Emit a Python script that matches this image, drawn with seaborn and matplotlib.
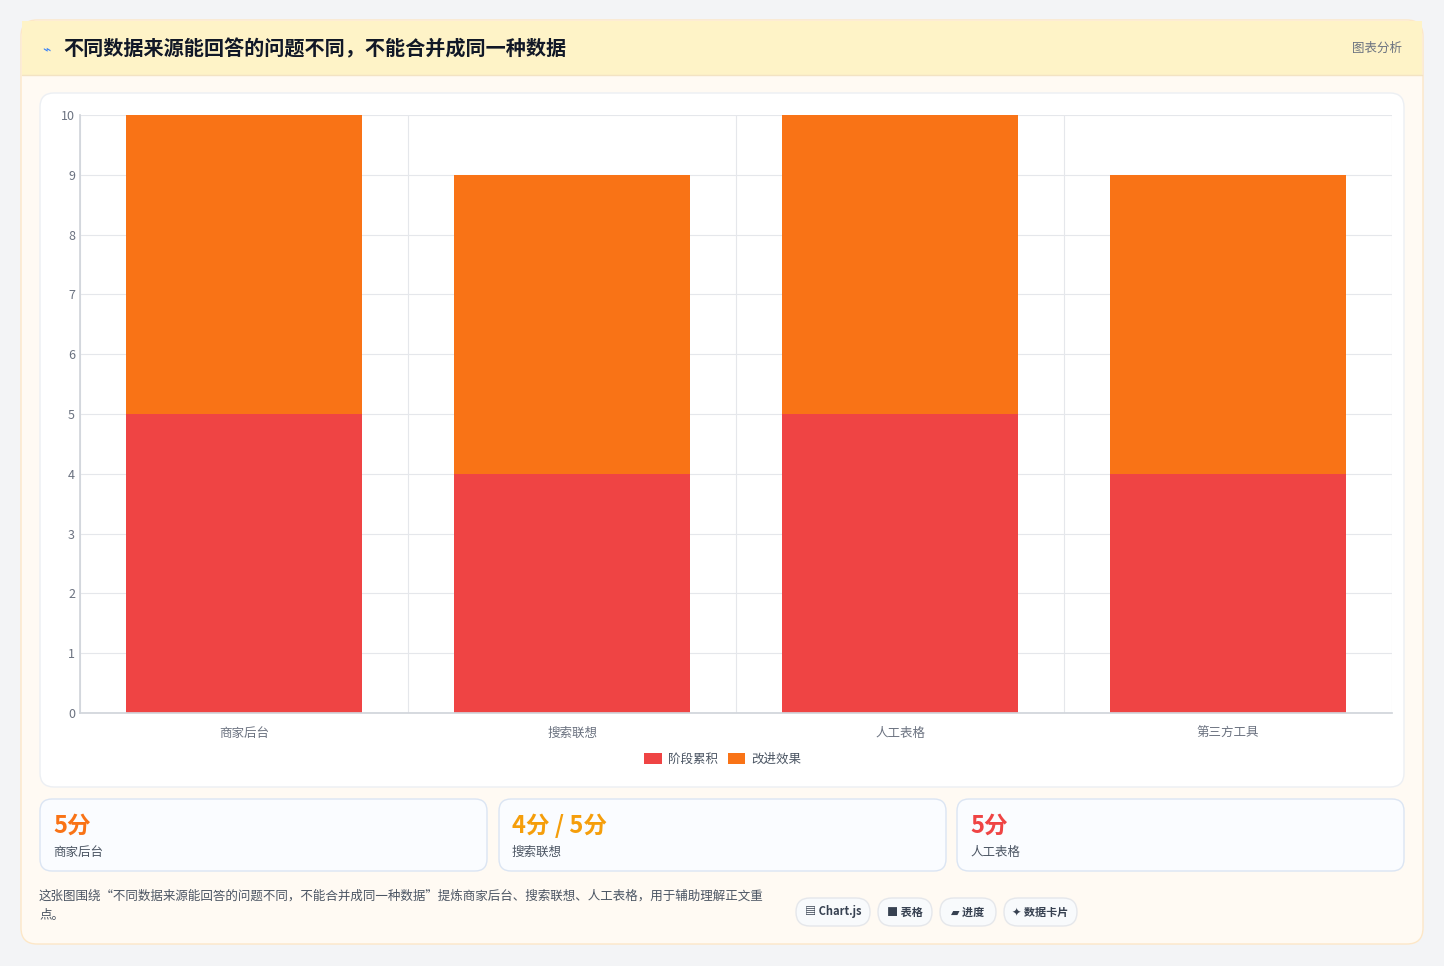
import matplotlib
matplotlib.use("Agg")
import matplotlib.pyplot as plt
import seaborn as sns
import pandas as pd
from matplotlib.patches import FancyBboxPatch, Rectangle

categories = ["商家后台", "搜索联想", "人工表格", "第三方工具"]
stage_values = [5, 4, 5, 4]
improve_values = [5, 5, 5, 5]
series_names = ["阶段累积", "改进效果"]
yticks = list(range(0, 11))
card_values = ["5分", "4分 / 5分", "5分"]
card_labels = ["商家后台", "搜索联想", "人工表格"]
card_colors = ["#f97316", "#f59e0b", "#ef4444"]
tags = ["▤ Chart.js", "■ 表格", "▰ 进度", "✦ 数据卡片"]
title = "不同数据来源能回答的问题不同，不能合并成同一种数据"
desc1 = "这张图围绕“不同数据来源能回答的问题不同，不能合并成同一种数据”提炼商家后台、搜索联想、人工表格，用于辅助理解正文重"
desc2 = "点。"

sns.set_theme(style="whitegrid")
plt.rcParams['font.family'] = ['Noto Sans CJK SC', 'DejaVu Sans']

W, H = 1444, 966
fig = plt.figure(figsize=(W/100, H/100), dpi=100)
fig.patch.set_facecolor("#f3f4f6")

def box(x, y, w, h, fc, ec, r=12, lw=1, z=0):
    p = FancyBboxPatch((x/W, 1-(y+h)/H), w/W, h/H,
                       boxstyle=f"round,pad=0,rounding_size={r/W}",
                       transform=fig.transFigure, fc=fc, ec=ec, lw=lw, zorder=z,
                       mutation_aspect=W/H)
    fig.patches.append(p)

box(21, 20, 1402, 924, "#fffaf3", "#fde7c7", r=16)
fig.patches.append(Rectangle((22/W, 1-75/H), 1400/W, 54/H, transform=fig.transFigure,
                             fc="#fef3c7", ec="none", zorder=0.5))
fig.lines.append(plt.Line2D([22/W, 1422/W], [1-75/H]*2, transform=fig.transFigure, color="#f3e3c3", lw=1))
fig.text(42/W, 1-49/H, "⌁", color="#3b82f6", fontsize=10, va="center")
fig.text(63/W, 1-49/H, title, fontsize=14.5, fontweight="bold", color="#111827", va="center")
fig.text(1402/W, 1-48/H, "图表分析", fontsize=9, color="#6b7280", va="center", ha="right")

box(40, 93, 1364, 694, "white", "#eceff3", r=14, z=1)

ax = fig.add_axes([80/W, 1-713/H, (1392-80)/W, (713-115)/H], zorder=2)
ax.set_facecolor("white")
df = pd.DataFrame({"cat": categories, "s": stage_values, "i": improve_values})
sns.barplot(data=df, x="cat", y="s", color="#ef4444", width=0.72, ax=ax, saturation=1,
            label=series_names[0], linewidth=0)
sns.barplot(data=df, x="cat", y="i", bottom=df["s"], color="#f97316", width=0.72, ax=ax,
            saturation=1, label=series_names[1], linewidth=0)
ax.set_ylim(0, 10)
ax.set_xlim(-0.5, 3.5)
ax.set_yticks(yticks)
ax.set_xlabel(""); ax.set_ylabel("")
ax.tick_params(axis="both", labelsize=9, colors="#6b7280", length=0)
ax.tick_params(axis="x", pad=10)
ax.set_xticks([-0.5, 0.5, 1.5, 2.5, 3.5], minor=True)
ax.grid(False)
ax.grid(True, which="minor", axis="x", color="#e5e7eb", lw=0.8)
ax.grid(True, which="major", axis="y", color="#e5e7eb", lw=0.8)
for s in ["top", "right"]:
    ax.spines[s].set_visible(False)
ax.spines["left"].set_color("#d1d5db"); ax.spines["bottom"].set_color("#d1d5db")
leg = ax.legend(loc="upper center", bbox_to_anchor=(0.49, -0.048), ncol=2, frameon=False,
                fontsize=9, handlelength=1.4, handleheight=0.9, columnspacing=0.8, handletextpad=0.5)
for t in leg.get_texts():
    t.set_color("#4b5563")

cx = [40, 499, 957]
for x, v, l, c in zip(cx, card_values, card_labels, card_colors):
    box(x, 799, 447, 72, "#fafcff", "#dbe5f3", r=12)
    fig.text((x+13)/W, 1-826/H, v, fontsize=17, fontweight="bold", color=c, va="center")
    fig.text((x+13)/W, 1-852/H, l, fontsize=9, color="#4b5563", va="center")

fig.text(39/W, 1-896/H, desc1, fontsize=9, color="#4b5563", va="center")
fig.text(39/W, 1-916/H, desc2, fontsize=9, color="#4b5563", va="center")
tx = [(796, 74), (878, 54), (940, 56), (1004, 73)]
for (x, w), t in zip(tx, tags):
    box(x, 898, w, 28, "#f8fafc", "#e5e7eb", r=14)
    fig.text((x+w/2)/W, 1-912/H, t, fontsize=8, fontweight="bold", color="#374151", ha="center", va="center")

fig.savefig("out.png", dpi=100, facecolor=fig.get_facecolor())
